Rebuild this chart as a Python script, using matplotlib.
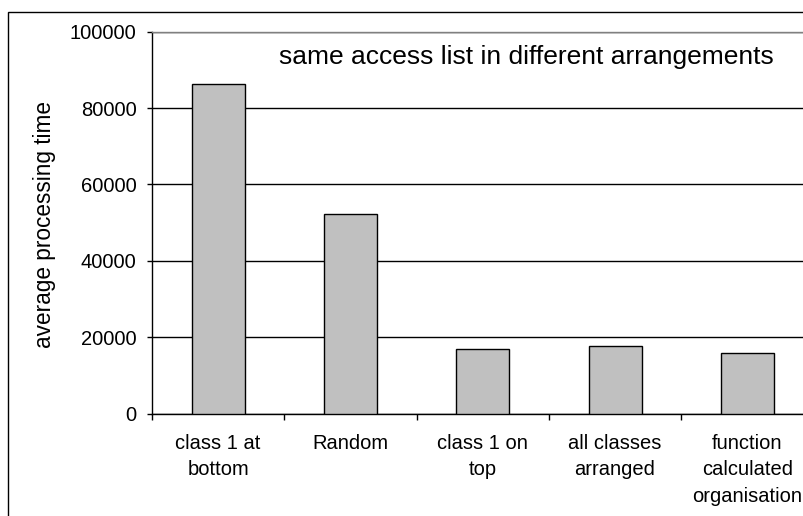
import matplotlib
matplotlib.use("Agg")
import matplotlib.pyplot as plt
from matplotlib.patches import Rectangle
from matplotlib.ticker import FixedLocator

plt.rcParams['font.family'] = ['Liberation Sans', 'DejaVu Sans']

categories = ["class 1 at\nbottom", "Random", "class 1 on\ntop",
              "all classes\narranged", "function\ncalculated\norganisation"]
avg_time = [86200, 52300, 16800, 17750, 15750]
y_ticks = [0, 20000, 40000, 60000, 80000, 100000]
title = "same access list in different arrangements"
y_label = "average processing time"

W, H = 804, 516
fig = plt.figure(figsize=(W / 100, H / 100), dpi=100)

# outer chart frame (continues past the right and bottom edges)
fig.patches.append(Rectangle((8 / W, -0.1), 1.2, 1 - 12 / H + 0.1,
                             transform=fig.transFigure, fill=False,
                             edgecolor='black', linewidth=1.0))

left, right = 152, 813.5
top, bottom = 31.7, 413.5
ax = fig.add_axes([left / W, 1 - bottom / H, (right - left) / W, (bottom - top) / H])

x = list(range(len(categories)))
ax.bar(x, avg_time, width=0.4, color='#C0C0C0', edgecolor='black', linewidth=1.0, zorder=3)

ax.set_xlim(-0.5, len(categories) - 0.5)
ax.set_ylim(0, 100000)
ax.set_yticks(y_ticks)
ax.set_yticklabels([str(v) for v in y_ticks], fontsize=14.5)
ax.yaxis.grid(True, color='black', linewidth=1.0, zorder=0)
ax.set_axisbelow(True)

ax.set_xticks(x)
ax.set_xticklabels(categories, fontsize=14.5, linespacing=1.52, va='top')
ax.tick_params(axis='x', which='major', length=0, pad=14.5)
ax.xaxis.set_minor_locator(FixedLocator([i - 0.5 for i in range(len(categories) + 1)]))
ax.tick_params(axis='x', which='minor', length=4.5, width=1.0, direction='out')
ax.tick_params(axis='y', length=3.6, width=1.0, direction='out', pad=7.5)

for s in ('left', 'bottom'):
    ax.spines[s].set_color('black')
    ax.spines[s].set_linewidth(1.0)
ax.spines['top'].set_color('#808080')
ax.spines['top'].set_linewidth(1.0)
ax.spines['right'].set_visible(False)

fig.text(526 / W, 1 - 57 / H, title, fontsize=19, ha='center', va='center')
fig.text(45 / W, 1 - 224 / H, y_label, fontsize=16.3, rotation=90, ha='center', va='center')

fig.savefig("out.png", dpi=100)
